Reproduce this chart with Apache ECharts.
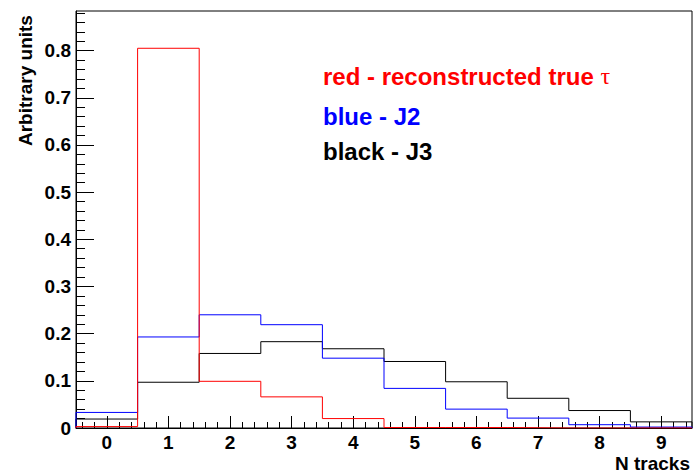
<!DOCTYPE html>
<html>
<head>
<meta charset="utf-8">
<script src="https://cdn.jsdelivr.net/npm/echarts@6/dist/echarts.min.js"></script>
<style>html,body{margin:0;padding:0;background:#fff}#c{width:693px;height:473px}</style>
</head>
<body>
<div id="c"></div>
<script>
// bin centres (N tracks)
const bins = [0, 1, 2, 3, 4, 5, 6, 7, 8, 9];
// series values (arbitrary units)
const redTau = [0.003, 0.805, 0.099, 0.066, 0.020, 0.001, 0.001, 0.0, 0.0, 0.0];
const blueJ2 = [0.033, 0.193, 0.240, 0.219, 0.148, 0.084, 0.040, 0.021, 0.007, 0.002];
const blackJ3 = [0.019, 0.097, 0.158, 0.183, 0.168, 0.141, 0.098, 0.063, 0.037, 0.013];
// tick labels
const xTicks = [0, 1, 2, 3, 4, 5, 6, 7, 8, 9];
const yTicks = [0, 0.1, 0.2, 0.3, 0.4, 0.5, 0.6, 0.7, 0.8];
const labels = ['red - reconstructed true ', 'τ', 'blue - J2', 'black - J3'];
const xTitle = 'N tracks';
const yTitle = 'Arbitrary units';

const X_MIN = -0.5, X_MAX = 9.5, Y_MIN = 0, Y_MAX = 0.884;

function steps(vals) {
  const pts = [[bins[0] - 0.5, 0]];
  vals.forEach((v, i) => { pts.push([bins[i] - 0.5, v]); pts.push([bins[i] + 0.5, v]); });
  pts.push([bins[bins.length - 1] + 0.5, 0]);
  return pts;
}
const xMinor = [];
for (let i = 0; i < 50; i++) { const v = +(X_MIN + 0.1 + i * 0.2).toFixed(2); if (v > X_MIN && v < X_MAX && Math.abs(v - Math.round(v)) > 1e-6) xMinor.push(v); }
const yMinor = [];
for (let i = 1; i <= 44; i++) { const v = +(i * 0.02).toFixed(2); if (v < Y_MAX && Math.abs(v * 10 - Math.round(v * 10)) > 1e-6) yMinor.push(v); }

const FONT = 'Liberation Sans, Arial, sans-serif';
const chart = echarts.init(document.getElementById('c'), null, { renderer: 'svg' });
const lineCommon = { type: 'line', showSymbol: false, symbol: 'none', animation: false, clip: true, lineStyle: { width: 1 } };
chart.setOption({
  animation: false,
  grid: { left: 76, right: 1, top: 11, bottom: 45, show: true, borderColor: '#000', borderWidth: 1, backgroundColor: 'transparent' },
  xAxis: [
    { type: 'value', min: X_MIN, max: X_MAX, position: 'bottom',
      axisLine: { show: true, onZero: false, lineStyle: { color: '#000', width: 1 } },
      axisTick: { show: true, inside: true, length: 12, customValues: xTicks, lineStyle: { color: '#000' } },
      axisLabel: { show: true, customValues: xTicks, margin: 5, color: '#000', fontSize: 19, fontWeight: 'bold', fontFamily: FONT },
      splitLine: { show: false } },
    { type: 'value', min: X_MIN, max: X_MAX, position: 'bottom', offset: 0,
      axisLine: { show: false, onZero: false },
      axisTick: { show: true, inside: true, length: 6, customValues: xMinor, lineStyle: { color: '#000' } },
      axisLabel: { show: false }, splitLine: { show: false } }
  ],
  yAxis: [
    { type: 'value', min: Y_MIN, max: Y_MAX, position: 'left',
      axisLine: { show: true, onZero: false, lineStyle: { color: '#000', width: 1 } },
      axisTick: { show: true, inside: true, length: 18, customValues: yTicks, lineStyle: { color: '#000' } },
      axisLabel: { show: true, customValues: yTicks, margin: 5, color: '#000', fontSize: 19, fontWeight: 'bold', fontFamily: FONT,
        formatter: v => (v === 0 ? '0' : v.toFixed(1)) },
      splitLine: { show: false } },
    { type: 'value', min: Y_MIN, max: Y_MAX, position: 'left', offset: 0,
      axisLine: { show: false, onZero: false },
      axisTick: { show: true, inside: true, length: 9, customValues: yMinor, lineStyle: { color: '#000' } },
      axisLabel: { show: false }, splitLine: { show: false } }
  ],
  series: [
    Object.assign({}, lineCommon, { name: 'J3', data: steps(blackJ3), color: '#000', lineStyle: { width: 1, color: '#000' }, z: 2 }),
    Object.assign({}, lineCommon, { name: 'J2', data: steps(blueJ2), color: '#0000ff', lineStyle: { width: 1, color: '#0000ff' }, z: 3 }),
    Object.assign({}, lineCommon, { name: 'tau', data: steps(redTau), color: '#ff0000', lineStyle: { width: 1, color: '#ff0000' }, z: 4 })
  ],
  graphic: [
    { type: 'text', left: 323, top: 64, style: {
      text: '{a|' + labels[0] + '}{t|' + labels[1] + '}',
      rich: { a: { fill: '#ff0000', fontSize: 24, fontWeight: 'bold', fontFamily: FONT },
              t: { fill: '#ff0000', fontSize: 24, fontFamily: 'Liberation Serif, serif' } } } },
    { type: 'text', left: 323, top: 104, style: { text: labels[2], fill: '#0000ff', fontSize: 24, fontWeight: 'bold', fontFamily: FONT } },
    { type: 'text', left: 323, top: 139, style: { text: labels[3], fill: '#000', fontSize: 24, fontWeight: 'bold', fontFamily: FONT } },
    { type: 'text', right: 3, top: 454, style: { text: xTitle, fill: '#000', fontSize: 19, fontWeight: 'bold', fontFamily: FONT } },
    { type: 'text', x: 16, y: 146, rotation: Math.PI / 2, style: { text: yTitle, fill: '#000', fontSize: 19, fontWeight: 'bold', fontFamily: FONT, align: 'left', verticalAlign: 'top' } }
  ]
});
</script>
</body>
</html>
